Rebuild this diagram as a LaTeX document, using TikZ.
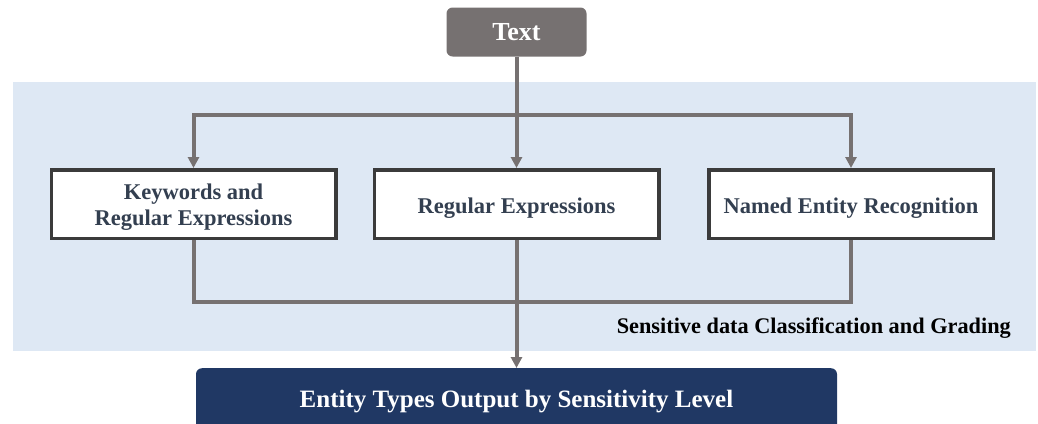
\documentclass[tikz,border=0pt]{standalone}
\usepackage{fontspec}
\setmainfont{Liberation Serif}
\usetikzlibrary{arrows.meta}
\definecolor{panelblue}{HTML}{DEE8F4}
\definecolor{flowgray}{HTML}{767171}
\definecolor{boxedge}{HTML}{3B3B3B}
\definecolor{boxtext}{HTML}{333F50}
\definecolor{navy}{HTML}{203864}
\tikzset{
  conn/.style={draw=flowgray, line width=4pt},
  tip/.style={-{Triangle[length=11pt,width=11pt]}},
  method/.style={draw=boxedge, fill=white, line width=3.5pt,
    minimum width=284.5pt, minimum height=68.5pt, inner sep=0pt,
    align=center, text=boxtext, font=\fontsize{22.5}{26}\selectfont\bfseries},
  oneline/.style={text height=23.3pt},
  twoline/.style={text height=47.3pt},
  source/.style={fill=flowgray, rounded corners=6pt, minimum width=140pt,
    minimum height=49pt, inner sep=0pt, text=white,
    font=\fontsize{26}{30}\selectfont\bfseries},
  result/.style={fill=navy, rounded corners=6pt, minimum width=641pt,
    minimum height=70pt, inner sep=0pt, text=white,
    font=\fontsize{25}{29}\selectfont\bfseries},
}
\begin{document}
\begin{tikzpicture}[x=1pt,y=-1pt]
\useasboundingbox (0,0) rectangle (1038,423);
\clip (0,0) rectangle (1038,423);
% background panel of the classification stage
\fill[panelblue] (13,82) rectangle (1036,351);
% nodes
\node[source] (txt) at (516.5,32) {Text};
\node[method, twoline] (kw)  at (193.5,204) {Keywords and\\Regular Expressions};
\node[method, oneline] (re)  at (516.5,204) {Regular Expressions};
\node[method, oneline] (ner) at (851,204) {Named Entity Recognition};
\node[result, anchor=north] (out) at (516.5,368) {};
\node[text=white, font=\fontsize{25}{29}\selectfont\bfseries, anchor=base] (outlbl) at (516.5,407) {Entity Types Output by Sensitivity Level};
\node[anchor=base east, inner sep=0pt, font=\fontsize{22.3}{26}\selectfont\bfseries] (stage) at (1011,333) {Sensitive data Classification and Grading};
% branching and joining points
\coordinate (split) at (516.5,115);
\coordinate (join) at (516.5,302);
% connectors
\draw[conn] (txt) -- (split);
\draw[conn, tip] (split) -| (kw);
\draw[conn, tip] (split) -| (ner);
\draw[conn, tip] (split) -- (re);
\draw[conn] (kw) |- (join) -| (ner);
\draw[conn, tip] (re) -- (out);
\end{tikzpicture}
\end{document}
